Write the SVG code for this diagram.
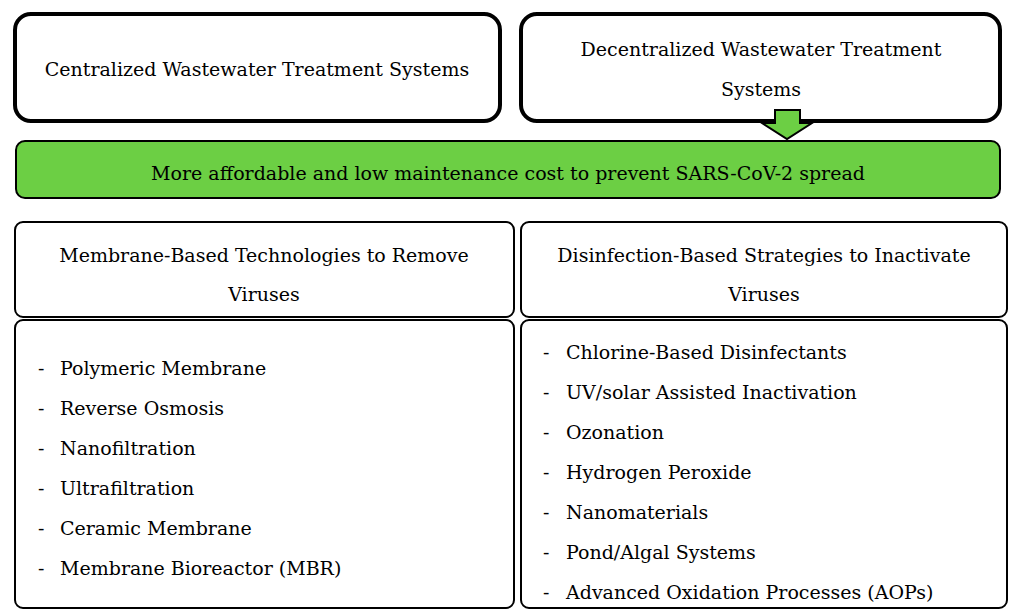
<svg xmlns="http://www.w3.org/2000/svg" width="1010" height="612" viewBox="0 0 1010 612">
<style>
.t{font-family:"DejaVu Serif","Liberation Serif",serif;font-size:19px;fill:#000;}
.c{text-anchor:middle;}
.top{fill:#fff;stroke:#000;stroke-width:4;}
.box{fill:#fff;stroke:#000;stroke-width:2;}
.green{fill:#6ccf44;stroke:#000;stroke-width:2;}
</style>
<rect width="1010" height="612" fill="#fff"/>
<g id="centralized">
<rect class="top" x="15" y="14" width="485" height="107" rx="16"/>
<text class="t c" x="257" y="76">Centralized Wastewater Treatment Systems</text>
</g>
<g id="decentralized">
<rect class="top" x="521" y="14" width="479" height="107" rx="16"/>
<text class="t c" x="761" y="56">Decentralized Wastewater Treatment</text>
<text class="t c" x="761" y="96">Systems</text>
</g>
<g id="affordable">
<rect class="green" x="16" y="141" width="984" height="57" rx="9"/>
<text class="t c" x="508" y="180">More affordable and low maintenance cost to prevent SARS-CoV-2 spread</text>
</g>
<g id="connectors">
<polygon class="green" points="775,110 800,110 800,123 812,123 787,139 762,123 775,123"/>
</g>
<g id="membrane-header">
<rect class="box" x="15" y="222" width="499" height="95" rx="8"/>
<text class="t c" x="264" y="262">Membrane-Based Technologies to Remove</text>
<text class="t c" x="264" y="301">Viruses</text>
</g>
<g id="membrane-list">
<rect class="box" x="15" y="320" width="499" height="288" rx="8"/>
<text class="t" x="38" y="375">-</text><text class="t" x="60" y="375">Polymeric Membrane</text>
<text class="t" x="38" y="415">-</text><text class="t" x="60" y="415">Reverse Osmosis</text>
<text class="t" x="38" y="455">-</text><text class="t" x="60" y="455">Nanofiltration</text>
<text class="t" x="38" y="495">-</text><text class="t" x="60" y="495">Ultrafiltration</text>
<text class="t" x="38" y="535">-</text><text class="t" x="60" y="535">Ceramic Membrane</text>
<text class="t" x="38" y="575">-</text><text class="t" x="60" y="575">Membrane Bioreactor (MBR)</text>
</g>
<g id="disinfection-header">
<rect class="box" x="521" y="222" width="486" height="95" rx="8"/>
<text class="t c" x="764" y="262">Disinfection-Based Strategies to Inactivate</text>
<text class="t c" x="764" y="301">Viruses</text>
</g>
<g id="disinfection-list">
<rect class="box" x="521" y="320" width="486" height="288" rx="8"/>
<text class="t" x="543" y="359">-</text><text class="t" x="566" y="359">Chlorine-Based Disinfectants</text>
<text class="t" x="543" y="399">-</text><text class="t" x="566" y="399">UV/solar Assisted Inactivation</text>
<text class="t" x="543" y="439">-</text><text class="t" x="566" y="439">Ozonation</text>
<text class="t" x="543" y="479">-</text><text class="t" x="566" y="479">Hydrogen Peroxide</text>
<text class="t" x="543" y="519">-</text><text class="t" x="566" y="519">Nanomaterials</text>
<text class="t" x="543" y="559">-</text><text class="t" x="566" y="559">Pond/Algal Systems</text>
<text class="t" x="543" y="599">-</text><text class="t" x="566" y="599">Advanced Oxidation Processes (AOPs)</text>
</g>
</svg>
